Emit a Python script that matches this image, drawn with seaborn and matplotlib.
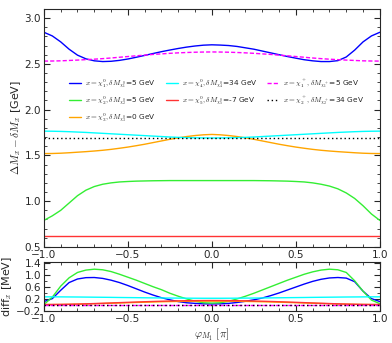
import numpy as np
import pandas as pd
import seaborn as sns
import matplotlib.pyplot as plt
from matplotlib.ticker import MultipleLocator

phi = [-1.00, -0.95, -0.90, -0.85, -0.80, -0.75, -0.70, -0.65, -0.60, -0.55, -0.50,
       -0.45, -0.40, -0.35, -0.30, -0.25, -0.20, -0.15, -0.10, -0.05, 0.00,
       0.05, 0.10, 0.15, 0.20, 0.25, 0.30, 0.35, 0.40, 0.45, 0.50,
       0.55, 0.60, 0.65, 0.70, 0.75, 0.80, 0.85, 0.90, 0.95, 1.00]

# top panel: Delta M_x - delta M_x [GeV]
chi1 = [2.845, 2.805, 2.74, 2.66, 2.595, 2.555, 2.533, 2.525, 2.528, 2.538, 2.553,
        2.572, 2.592, 2.613, 2.633, 2.651, 2.668, 2.683, 2.695, 2.704, 2.708,
        2.705, 2.70, 2.69, 2.675, 2.66, 2.64, 2.62, 2.60, 2.58, 2.562,
        2.545, 2.533, 2.525, 2.525, 2.535, 2.575, 2.65, 2.74, 2.805, 2.845]
chi2 = [0.79, 0.84, 0.90, 0.98, 1.06, 1.12, 1.16, 1.185, 1.20, 1.21, 1.215,
        1.219, 1.221, 1.223, 1.224, 1.225, 1.225, 1.225, 1.225, 1.225, 1.225,
        1.225, 1.225, 1.225, 1.225, 1.225, 1.224, 1.223, 1.221, 1.219, 1.215,
        1.21, 1.20, 1.185, 1.165, 1.135, 1.09, 1.03, 0.95, 0.86, 0.79]
chi3 = [1.520, 1.521, 1.524, 1.529, 1.535, 1.541, 1.548, 1.556, 1.566, 1.578, 1.591,
        1.606, 1.622, 1.640, 1.658, 1.676, 1.692, 1.706, 1.717, 1.725, 1.729,
        1.725, 1.717, 1.706, 1.692, 1.676, 1.658, 1.640, 1.622, 1.606, 1.591,
        1.578, 1.566, 1.556, 1.548, 1.541, 1.535, 1.529, 1.524, 1.521, 1.520]
chi4 = [1.765, 1.764, 1.762, 1.759, 1.755, 1.751, 1.746, 1.741, 1.736, 1.731, 1.726,
        1.721, 1.716, 1.711, 1.706, 1.701, 1.697, 1.694, 1.692, 1.691, 1.690,
        1.691, 1.692, 1.694, 1.697, 1.701, 1.706, 1.711, 1.716, 1.721, 1.726,
        1.731, 1.736, 1.741, 1.746, 1.751, 1.755, 1.759, 1.762, 1.764, 1.765]
chi5 = [0.615] * 41
cha1 = [2.530, 2.531, 2.533, 2.537, 2.541, 2.546, 2.551, 2.557, 2.564, 2.572, 2.580,
        2.588, 2.595, 2.603, 2.609, 2.615, 2.620, 2.624, 2.627, 2.629, 2.630,
        2.629, 2.627, 2.624, 2.620, 2.615, 2.609, 2.603, 2.595, 2.588, 2.580,
        2.572, 2.564, 2.557, 2.551, 2.546, 2.541, 2.537, 2.533, 2.531, 2.530]
cha2 = [1.685] * 41

# bottom panel: diff_x [MeV]
d_chi1 = [0.10, 0.20, 0.48, 0.74, 0.86, 0.905, 0.91, 0.88, 0.82, 0.74, 0.64,
          0.53, 0.42, 0.32, 0.23, 0.16, 0.10, 0.06, 0.04, 0.025, 0.02,
          0.025, 0.04, 0.07, 0.11, 0.16, 0.22, 0.30, 0.39, 0.49, 0.59,
          0.69, 0.78, 0.85, 0.895, 0.91, 0.89, 0.77, 0.45, 0.20, 0.10]
d_chi2 = [0.00, 0.25, 0.62, 0.90, 1.08, 1.16, 1.19, 1.17, 1.11, 1.02, 0.92,
          0.82, 0.71, 0.60, 0.50, 0.38, 0.28, 0.19, 0.11, 0.06, 0.05,
          0.06, 0.11, 0.19, 0.28, 0.38, 0.49, 0.60, 0.71, 0.82, 0.92,
          1.02, 1.10, 1.16, 1.19, 1.17, 1.08, 0.80, 0.45, 0.15, 0.03]
d_chi3 = [0.00, 0.001, 0.003, 0.007, 0.012, 0.019, 0.027, 0.035, 0.044, 0.053, 0.062,
          0.071, 0.079, 0.087, 0.094, 0.100, 0.105, 0.109, 0.112, 0.114, 0.115,
          0.114, 0.112, 0.109, 0.105, 0.100, 0.094, 0.087, 0.079, 0.071, 0.062,
          0.053, 0.044, 0.035, 0.027, 0.019, 0.012, 0.007, 0.003, 0.001, 0.00]
d_chi4 = [0.26, 0.26, 0.258, 0.256, 0.254, 0.251, 0.248, 0.245, 0.242, 0.238, 0.235,
          0.232, 0.228, 0.225, 0.222, 0.219, 0.217, 0.215, 0.213, 0.212, 0.212,
          0.212, 0.213, 0.215, 0.217, 0.219, 0.222, 0.225, 0.228, 0.232, 0.235,
          0.238, 0.242, 0.245, 0.248, 0.251, 0.254, 0.256, 0.258, 0.26, 0.26]
d_chi5 = [0.00, 0.002, 0.005, 0.010, 0.017, 0.025, 0.034, 0.044, 0.054, 0.065, 0.075,
          0.085, 0.095, 0.104, 0.112, 0.119, 0.125, 0.130, 0.133, 0.135, 0.136,
          0.135, 0.133, 0.130, 0.125, 0.119, 0.112, 0.104, 0.095, 0.085, 0.075,
          0.065, 0.054, 0.044, 0.034, 0.025, 0.017, 0.010, 0.005, 0.002, 0.00]
d_cha1 = [-0.03] * 41
d_cha2 = [-0.03] * 41

labels = [r'$x=\chi_1^0,\delta M_{\chi_1^0}$=5 GeV',
          r'$x=\chi_2^0,\delta M_{\chi_2^0}$=5 GeV',
          r'$x=\chi_3^0,\delta M_{\chi_3^0}$=0 GeV',
          r'$x=\chi_4^0,\delta M_{\chi_4^0}$=34 GeV',
          r'$x=\chi_5^0,\delta M_{\chi_5^0}$=-7 GeV',
          r'$x=\chi_1^+,\delta M_{\chi_1^+}$=5 GeV',
          r'$x=\chi_2^+,\delta M_{\chi_2^+}$=34 GeV']
colors = ['#0000ff', '#33ee33', '#ffa500', '#00ffff', '#ff3333', '#ff00ff', 'black']
styles = ['-', '-', '-', '-', '-', (0, (3, 1.5)), (0, (1, 2))]

sns.set_style("ticks")
plt.rcParams['mathtext.fontset'] = 'cm'
plt.rcParams['font.family'] = ['DejaVu Sans']

fig = plt.figure(figsize=(3.92, 3.43), dpi=100)
ax = fig.add_axes([0.112, 0.280, 0.857, 0.694])
ax2 = fig.add_axes([0.112, 0.093, 0.857, 0.143])

top = [chi1, chi2, chi3, chi4, chi5, cha1, cha2]
bot = [d_chi1, d_chi2, d_chi3, d_chi4, d_chi5, d_cha1, d_cha2]
for i in range(7):
    sns.lineplot(x=phi, y=top[i], ax=ax, color=colors[i], linestyle=styles[i],
                 linewidth=1, label=labels[i])
    sns.lineplot(x=phi, y=bot[i], ax=ax2, color=colors[i], linestyle=styles[i],
                 linewidth=1)

ax.set_xlim(-1, 1)
ax.set_ylim(0.5, 3.1)
ax2.set_xlim(-1, 1)
ax2.set_ylim(-0.22, 1.43)

for a in (ax, ax2):
    a.xaxis.set_major_locator(MultipleLocator(0.5))
    a.xaxis.set_minor_locator(MultipleLocator(0.1))
    a.tick_params(which='both', direction='in', top=True, right=True, labelsize=7.5, pad=2)
    a.tick_params(which='major', length=4, width=0.8)
    a.tick_params(which='minor', length=2, width=0.6)
ax.yaxis.set_major_locator(MultipleLocator(0.5))
ax.yaxis.set_minor_locator(MultipleLocator(0.1))
ax2.yaxis.set_minor_locator(MultipleLocator(0.2))
ax2.set_yticks([-0.2, 0.2, 0.6, 1.0, 1.4])

ax.set_ylabel(r'$\Delta M_x - \delta M_x$ [GeV]', fontsize=8)
ax2.set_ylabel(r'diff$_x$ [MeV]', fontsize=8)
ax.yaxis.set_label_coords(-0.063, 0.5)
ax2.yaxis.set_label_coords(-0.088, 0.5)
ax2.set_xlabel(r'$\varphi_{M_1}\ [\pi]$', fontsize=8, labelpad=2)

ax.legend(loc='upper left', bbox_to_anchor=(0.06, 0.735), ncol=3, frameon=False,
          fontsize=5.3, handlelength=1.6, columnspacing=1.3, labelspacing=0.55,
          handletextpad=0.6, borderpad=0.2)

fig.savefig('out.png', dpi=100)
